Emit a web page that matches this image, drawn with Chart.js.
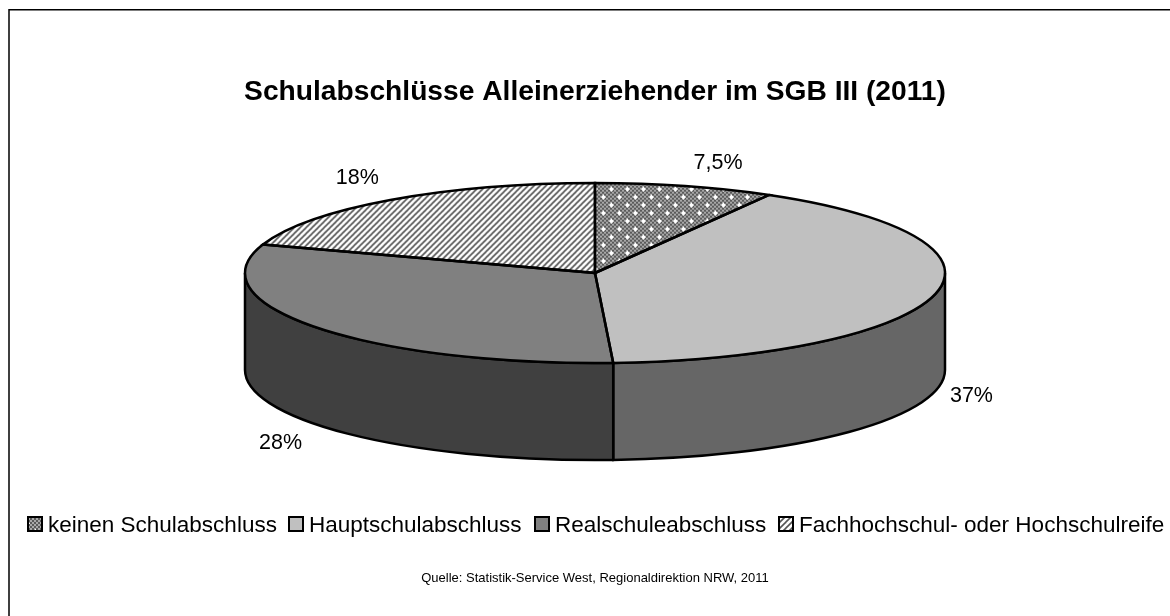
<!DOCTYPE html>
<html>
<head>
<meta charset="utf-8">
<title>Schulabschlüsse</title>
<style>
  html, body { margin: 0; background: #fff; }
  canvas { display: block; }
</style>
<script src="https://cdn.jsdelivr.net/npm/chart.js@4"></script>
</head>
<body>
<canvas id="pie" width="1170" height="616"></canvas>
<script>
const categories = ['keinen Schulabschluss', 'Hauptschulabschluss', 'Realschuleabschluss', 'Fachhochschul- oder Hochschulreife'];
const shares = [7.5, 37, 28, 18];
const shareLabels = ['7,5%', '37%', '28%', '18%'];

// flattened pie geometry
const CX = 595, CY = 273, RX = 350, RY = 90, DEPTH = 97;
const SQUASH = RY / RX;
const FONT = '"Liberation Sans", Arial, sans-serif';

const topColors = ['#808080', '#c0c0c0', '#808080', '#ffffff'];
const wallColors = ['#404040', '#666666', '#404040', '#808080'];
// label offset from the rim point at each slice's middle angle
const labelOffsets = [[33, -23], [36, 102], [-36, 116], [-33, -22]];

function tile(size, paint) {
  const c = document.createElement('canvas');
  c.width = c.height = size;
  paint(c.getContext('2d'), size);
  return c;
}

const dotTile = tile(16, (g, s) => {
  for (let y = 0; y < s; y += 2) {
    for (let x = 0; x < s; x += 2) {
      g.fillStyle = (x + y) % 4 === 0 ? '#5a5a5a' : '#a8a8a8';
      g.fillRect(x, y, 2, 2);
    }
  }
  g.fillStyle = '#fff';
  [[3, 3], [11, 11]].forEach(([x, y]) => {
    g.fillRect(x - 2, y, 5, 1);
    g.fillRect(x - 1, y - 1, 3, 3);
    g.fillRect(x, y - 2, 1, 5);
  });
});

const hatchTile = tile(6, (g, s) => {
  g.fillStyle = '#fff';
  g.fillRect(0, 0, s, s);
  g.strokeStyle = '#555';
  g.lineWidth = 1.6;
  for (let i = -s; i <= 2 * s; i += s) {
    g.beginPath();
    g.moveTo(i - s, s + s);
    g.lineTo(i + s + s, -s);
    g.stroke();
  }
});

const ctx = document.getElementById('pie').getContext('2d');

// slices are painted inside a squashed transform, so their patterns are stretched back
function stretchedPattern(source) {
  const p = ctx.createPattern(source, 'repeat');
  p.setTransform(new DOMMatrix().scale(1, 1 / SQUASH));
  return p;
}
const fills = [stretchedPattern(dotTile), topColors[1], topColors[2], stretchedPattern(hatchTile)];
const legendFills = [ctx.createPattern(dotTile, 'repeat'), topColors[1], topColors[2], ctx.createPattern(hatchTile, 'repeat')];

const pie3d = {
  id: 'pie3d',
  beforeDatasetsDraw(chart) {
    const c = chart.ctx;
    const arcs = chart.getDatasetMeta(0).data;
    c.save();
    c.lineWidth = 2.5;
    c.strokeStyle = '#000';
    // side wall: only the part of each slice on the front half shows
    arcs.forEach((arc, i) => {
      const a = Math.max(arc.startAngle, 0);
      const b = Math.min(arc.endAngle, Math.PI);
      if (b <= a) return;
      c.beginPath();
      c.ellipse(CX, CY, RX, RY, 0, a, b);
      c.ellipse(CX, CY + DEPTH, RX, RY, 0, b, a, true);
      c.closePath();
      c.fillStyle = wallColors[i];
      c.fill();
      c.stroke();
    });
    c.restore();
    const first = arcs[0];
    c.save();
    c.translate(CX, CY);
    c.scale(1, SQUASH);
    c.translate(-first.x, -first.y);
  },
  afterDatasetsDraw(chart) {
    const c = chart.ctx;
    c.restore();
    const arcs = chart.getDatasetMeta(0).data;
    c.save();
    c.lineWidth = 2.5;
    c.strokeStyle = '#000';
    arcs.forEach(arc => {
      c.beginPath();
      c.moveTo(CX, CY);
      c.ellipse(CX, CY, RX, RY, 0, arc.startAngle, arc.endAngle);
      c.closePath();
      c.stroke();
    });

    c.fillStyle = '#000';
    c.font = '21.5px ' + FONT;
    c.textAlign = 'center';
    c.textBaseline = 'middle';
    arcs.forEach((arc, i) => {
      const mid = (arc.startAngle + arc.endAngle) / 2;
      const x = CX + RX * Math.cos(mid) + labelOffsets[i][0];
      const y = CY + RY * Math.sin(mid) + labelOffsets[i][1];
      c.fillText(shareLabels[i], x, y);
    });
    c.restore();
  },
  afterDraw(chart) {
    const c = chart.ctx;
    c.save();
    // frame runs off the right and bottom edges
    c.strokeStyle = '#000';
    c.lineWidth = 1.5;
    c.beginPath();
    c.moveTo(9, 616);
    c.lineTo(9, 9.75);
    c.lineTo(1170, 9.75);
    c.stroke();

    // legend row with a tight gap between box and text
    c.font = '22.5px ' + FONT;
    c.textBaseline = 'middle';
    const legendStarts = [27, 288, 534, 778];
    categories.forEach((name, i) => {
      const x = legendStarts[i];
      c.fillStyle = legendFills[i];
      c.fillRect(x + 1, 517, 14, 14);
      c.strokeStyle = '#000';
      c.lineWidth = 2;
      c.strokeRect(x + 1, 517, 14, 14);
      c.fillStyle = '#000';
      c.fillText(name, x + 21, 526);
    });
    c.restore();
  }
};

new Chart(ctx, {
  type: 'pie',
  data: {
    labels: categories,
    datasets: [{
      data: shares,
      backgroundColor: fills,
      borderWidth: 0,
      radius: RX,
      clip: false
    }]
  },
  options: {
    responsive: false,
    animation: false,
    events: [],
    layout: { padding: { left: 20 } },
    plugins: {
      legend: { display: false },
      tooltip: { enabled: false },
      title: {
        display: true,
        text: 'Schulabschlüsse Alleinerziehender im SGB III (2011)',
        color: '#000',
        font: { family: FONT, size: 28.2, weight: 'bold' },
        padding: { top: 75, bottom: 10 }
      },
      subtitle: {
        display: true,
        position: 'bottom',
        text: 'Quelle: Statistik-Service West, Regionaldirektion NRW, 2011',
        color: '#000',
        font: { family: FONT, size: 13, weight: 'normal' },
        padding: { top: 10, bottom: 30 }
      }
    }
  },
  plugins: [pie3d]
});
</script>
</body>
</html>
